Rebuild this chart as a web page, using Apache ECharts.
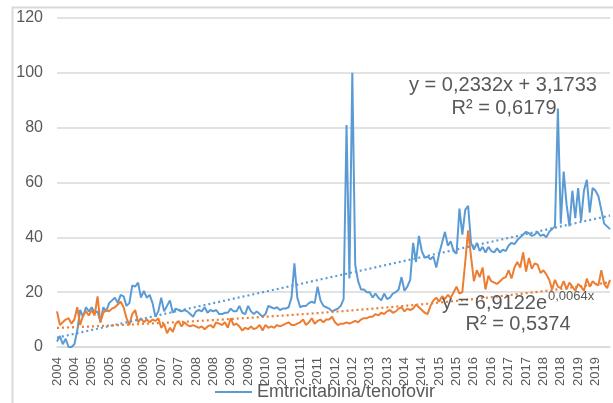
<!DOCTYPE html>
<html>
<head>
<meta charset="utf-8">
<script src="https://cdn.jsdelivr.net/npm/echarts@6.0.0/dist/echarts.min.js"></script>
<style>
  html, body { margin: 0; background: #fff; }
  #chart { width: 613px; height: 403px; }
</style>
</head>
<body>
<div id="chart"></div>
<script>
// monthly values, one row per year (2004 .. 2019)
const years = [2004, 2005, 2006, 2007, 2008, 2009, 2010, 2011, 2012, 2013, 2014, 2015, 2016, 2017, 2018, 2019]
const monthNames = ['01', '02', '03', '04', '05', '06', '07', '08', '09', '10', '11', '12']
const categories = years.flatMap((y) => monthNames.map((m) => `${y}-${m}`))

const blueName = 'Emtricitabina/tenofovir'
const blueValues = [
  2, 4, 1, 3, 0, 0, 1, 6, 13.5, 11, 14.5, 13,
  14.5, 12.5, 13, 9, 14.5, 13, 16, 17, 18, 16, 19, 18.5,
  15, 16, 22.5, 22, 23.5, 18, 20.5, 18, 19, 16, 11, 13,
  18, 13, 15, 17, 12.5, 14, 13.5, 13, 13.5, 13, 12, 11,
  13, 13.5, 13, 14.5, 12.5, 13.5, 13, 13.5, 12, 12, 12.5, 12.5,
  14, 13, 13, 15, 12.5, 12, 15, 13, 12, 13, 12, 11,
  12, 15, 14.5, 14, 14.5, 13.5, 14, 14, 14.5, 18, 30.5, 18,
  14.5, 15, 15, 16, 16.5, 16, 22, 17, 15, 14.5, 14, 13,
  13.5, 14, 15, 17.5, 81, 25, 100, 30, 24, 21, 21, 20,
  20, 18, 19.5, 18, 17, 19.5, 17.5, 18, 19.5, 20, 21, 25.5,
  20.5, 22, 24.5, 38, 31, 40.5, 35, 32.5, 33, 32, 33, 29,
  34, 38, 42, 37, 38.5, 35, 34, 50.5, 41, 50, 51.5, 38,
  35.5, 38, 35, 36.5, 34.5, 36.5, 35, 34.5, 36, 34.5, 35.5, 35,
  37, 38, 37.5, 39, 40, 41, 42, 41.5, 40.5, 41, 42, 40.5,
  41, 40, 42, 43, 44, 87, 45, 64, 52, 44, 57, 47,
  58, 46, 57, 61, 49, 58, 57, 55, 50, 45, 44, 43,
]
const orangeValues = [
  13, 8, 9, 10, 10.5, 8.5, 10, 14.5, 8, 11.5, 13, 11.5,
  13.5, 11.5, 18.5, 9, 12.5, 13.5, 13, 14, 14.5, 15.5, 16.5, 14.5,
  10.5, 8, 12, 13.5, 9, 10.5, 9, 10, 9, 10, 9.5, 10.5,
  7, 8.5, 5, 7, 5.5, 8.5, 9.5, 7.5, 9, 8, 7.5, 8,
  7.5, 7, 7.5, 6.5, 7.5, 8, 7, 9, 8.5, 8, 9, 7,
  10.5, 8, 8.5, 7.5, 6, 7, 6.5, 7.5, 6.5, 7, 8, 6,
  8, 7, 7.5, 7, 8, 7.5, 8, 8.5, 9, 8, 8, 8.5,
  9, 10, 8, 9, 10.5, 8.5, 9.5, 10, 9, 10, 10, 11,
  9, 8, 8.5, 8.5, 9, 8.5, 9, 9.5, 9, 10, 10.5, 10.5,
  11, 11, 12, 11.5, 12.5, 12, 13, 13.5, 12.5, 13, 14, 14.5,
  13, 14, 13.5, 14, 15.5, 14.5, 13.5, 12.5, 12, 15, 17, 18,
  16.5, 18.5, 17.5, 19, 18, 20, 22, 19.5, 20, 31, 42.5, 33,
  24, 28, 25.5, 29, 21, 26, 24, 23.5, 23, 24, 25, 25.5,
  28, 25, 29, 31, 29, 34.5, 27.5, 32.5, 28.5, 30.5, 30, 27,
  28, 26.5, 24.5, 21, 24.5, 22, 21.5, 24, 21, 23.5, 22, 20.5,
  23, 22, 20.5, 25, 22, 24, 23, 22.5, 28, 23, 21.5, 24.5,
]

// trendline coefficients as printed on the chart (x = 1, 2, 3 ...)
const linSlope = 0.2332
const linIntercept = 3.1733
const expCoef = 6.9122
const expRate = 0.0064
const blueTrend = categories.map((_, i) => linSlope * (i + 1) + linIntercept)
const orangeTrend = categories.map((_, i) => expCoef * Math.exp(expRate * (i + 1)))

const yTicks = { min: 0, max: 120, interval: 20 }

const blue = '#5b9bd5'
const orange = '#ed7d31'
const textGray = '#595959'
const gridGray = '#d9d9d9'
const fontFamily = '"Liberation Sans", Arial, sans-serif'

const chart = echarts.init(document.getElementById('chart'))

chart.setOption({
  animation: false,
  textStyle: { fontFamily },
  grid: { left: 57, right: 3, top: 18, bottom: 56, containLabel: false },
  legend: {
    data: [{ name: blueName, icon: 'rect' }],
    left: 210,
    top: 378,
    itemWidth: 37,
    itemHeight: 2,
    itemGap: 0,
    textStyle: { color: textGray, fontSize: 18, fontFamily },
  },
  xAxis: {
    type: 'category',
    data: categories,
    boundaryGap: false,
    axisLine: { lineStyle: { color: gridGray, width: 1.5 } },
    axisTick: { show: false },
    axisLabel: {
      interval: 5,
      rotate: 90,
      margin: 10,
      color: textGray,
      fontSize: 13,
      fontFamily,
      formatter: (v) => v.slice(0, 4),
    },
    splitLine: { show: false },
  },
  yAxis: {
    type: 'value',
    min: yTicks.min,
    max: yTicks.max,
    interval: yTicks.interval,
    axisLine: { show: false },
    axisTick: { show: false },
    axisLabel: { color: textGray, fontSize: 16, margin: 14, fontFamily },
    splitLine: { lineStyle: { color: gridGray, width: 1.5 } },
  },
  series: [
    {
      name: blueName,
      type: 'line',
      data: blueValues,
      symbol: 'none',
      color: blue,
      lineStyle: { width: 2, color: blue },
    },
    {
      name: 'orange',
      type: 'line',
      data: orangeValues,
      symbol: 'none',
      color: orange,
      lineStyle: { width: 2, color: orange },
    },
    {
      name: 'blueTrend',
      type: 'line',
      data: blueTrend,
      symbol: 'none',
      lineStyle: { width: 2.2, color: blue, type: [2, 3] },
    },
    {
      name: 'orangeTrend',
      type: 'line',
      data: orangeTrend,
      symbol: 'none',
      lineStyle: { width: 2.2, color: orange, type: [2, 3] },
    },
  ],
  graphic: [
    {
      type: 'rect',
      z: -10,
      silent: true,
      shape: { x: 12.5, y: 7.5, width: 700, height: 500 },
      style: { fill: 'none', stroke: gridGray, lineWidth: 2 },
    },
    {
      type: 'text', z: 100, x: 503, y: 85,
      style: { text: 'y = 0,2332x + 3,1733', fill: textGray, font: `20px ${fontFamily}`, textAlign: 'center', textVerticalAlign: 'middle' },
    },
    {
      type: 'text', z: 100, x: 504, y: 108,
      style: { text: 'R² = 0,6179', fill: textGray, font: `20px ${fontFamily}`, textAlign: 'center', textVerticalAlign: 'middle' },
    },
    {
      type: 'text', z: 100, x: 442, y: 303,
      style: { text: 'y = 6,9122e', fill: textGray, font: `20px ${fontFamily}`, textAlign: 'left', textVerticalAlign: 'middle' },
    },
    {
      type: 'text', z: 100, x: 548, y: 296,
      style: { text: '0,0064x', fill: textGray, font: `13px ${fontFamily}`, textAlign: 'left', textVerticalAlign: 'middle' },
    },
    {
      type: 'text', z: 100, x: 518, y: 324,
      style: { text: 'R² = 0,5374', fill: textGray, font: `20px ${fontFamily}`, textAlign: 'center', textVerticalAlign: 'middle' },
    },
  ],
})
</script>
</body>
</html>
